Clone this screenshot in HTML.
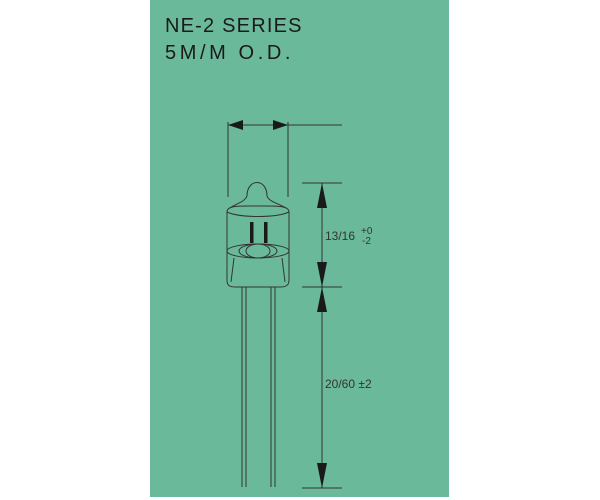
<!DOCTYPE html>
<html><head><style>
html,body{margin:0;padding:0;background:#fff;}
svg{display:block}
</style></head><body>
<svg width="600" height="500" viewBox="0 0 600 500" xmlns="http://www.w3.org/2000/svg">
<rect x="150" y="0" width="299" height="497" fill="#6bb99b"/>
<g font-family="Liberation Sans, sans-serif" fill="#1a1a1a">
<text x="165" y="32" font-size="20" letter-spacing="1.2">NE-2 SERIES</text>
<text x="165" y="59" font-size="20" letter-spacing="3.6">5M/M O.D.</text>
<text x="325" y="240" font-size="12" fill="#333">13/16</text>
<text x="361" y="234" font-size="10" fill="#333">+0</text>
<text x="362" y="244" font-size="10" fill="#333">-2</text>
<text x="325" y="388" font-size="12" fill="#333">20/60 ±2</text>
</g>
<g stroke="#333" stroke-width="1" fill="none">
<line x1="228" y1="125" x2="342" y2="125"/>
<line x1="228" y1="122" x2="228" y2="197"/>
<line x1="288" y1="122" x2="288" y2="197"/>
<line x1="322" y1="183" x2="322" y2="488"/>
<line x1="302" y1="183" x2="342" y2="183"/>
<line x1="302" y1="287" x2="342" y2="287"/>
<line x1="302" y1="488" x2="342" y2="488"/>
<path d="M247 196 C247 178 267 178 267 196"/>
<path d="M247 196 C245 202 235 204 230 208 M267 196 C269 202 280 204 286 208"/>
<path d="M227 212 C227 205 240 206 257 206 C274 206 289 205 289 212 L289 280 C289 286 285 287 280 287 L236 287 C230 287 227 286 227 280 Z"/>
<path d="M227 212 C240 218 276 218 289 212"/>
<ellipse cx="258" cy="251" rx="31" ry="7"/>
<ellipse cx="258" cy="251" rx="19" ry="7"/>
<ellipse cx="258" cy="251" rx="12" ry="7"/>
<path d="M234 258 L231 282 M282 258 L285 282"/>
<line x1="242" y1="287" x2="242" y2="487"/>
<line x1="246" y1="287" x2="246" y2="487"/>
<line x1="271" y1="287" x2="271" y2="487"/>
<line x1="275" y1="287" x2="275" y2="487"/>
</g>
<g fill="#1a1a1a">
<rect x="250" y="222" width="3.5" height="21"/>
<rect x="264" y="222" width="3.5" height="21"/>
<polygon points="228,125 243,120 243,130"/>
<polygon points="288,125 273,120 273,130"/>
<polygon points="322,183 317,208 327,208"/>
<polygon points="322,287 317,262 327,262"/>
<polygon points="322,287 317,312 327,312"/>
<polygon points="322,488 317,463 327,463"/>
</g>
</svg>
</body></html>
